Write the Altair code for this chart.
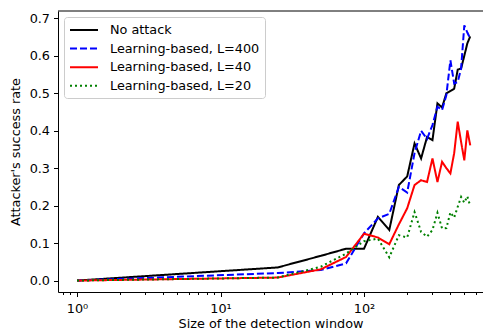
import altair as alt
import pandas as pd

# Detection window sizes
window = [1, 25, 50, 75, 100, 125, 150, 175, 200, 225, 250, 275, 300,
          325, 350, 375, 400, 425, 450, 475, 500, 525, 550]

no_attack = [0.0, 0.035, 0.066, 0.085, 0.085, 0.170, 0.135, 0.255, 0.278,
             0.366, 0.326, 0.383, 0.375, 0.473, 0.462, 0.500, 0.506, 0.512,
             0.563, 0.566, 0.600, 0.633, 0.652]
learn_400 = [0.0, 0.020, 0.028, 0.046, 0.126, 0.166, 0.178, 0.250, 0.235,
             0.340, 0.400, 0.378, 0.415, 0.464, 0.455, 0.495, 0.588, 0.526,
             0.530, 0.566, 0.681, 0.662, 0.646]
learn_40 = [0.0, 0.008, 0.030, 0.063, 0.125, 0.115, 0.097, 0.150, 0.193,
            0.255, 0.268, 0.263, 0.326, 0.263, 0.317, 0.300, 0.286, 0.340,
            0.424, 0.370, 0.321, 0.401, 0.361]
learn_20 = [0.0, 0.008, 0.037, 0.072, 0.105, 0.112, 0.062, 0.121, 0.115,
            0.183, 0.130, 0.117, 0.135, 0.181, 0.139, 0.140, 0.182, 0.168,
            0.197, 0.223, 0.208, 0.225, 0.199]

series_names = ["No attack", "Learning-based, L=400",
                "Learning-based, L=40", "Learning-based, L=20"]
series_values = [no_attack, learn_400, learn_40, learn_20]
series_colors = ["#000000", "#0000ff", "#ff0000", "#008000"]
series_dashes = [[1, 0], [7, 3], [1, 0], [2, 3]]

major_ticks = [1, 10, 100]
minor_ticks = [0.8, 0.9, 2, 3, 4, 5, 6, 7, 8, 9,
               20, 30, 40, 50, 60, 70, 80, 90, 200, 300, 400, 500, 600]
y_ticks = [0.0, 0.1, 0.2, 0.3, 0.4, 0.5, 0.6, 0.7]

rows = []
for name, vals in zip(series_names, series_values):
    for w, v in zip(window, vals):
        rows.append({"window": w, "rate": v, "series": name})
df = pd.DataFrame(rows)

FONT = "DejaVu Sans"
W, H = 425, 281

x_axis = alt.Axis(
    values=sorted(major_ticks + minor_ticks),
    labelExpr="datum.value == 1 ? '10⁰' : datum.value == 10 ? '10¹' : datum.value == 100 ? '10²' : ''",
    tickSize={"condition": {"test": "datum.value == 1 || datum.value == 10 || datum.value == 100",
                            "value": 4.5}, "value": 2.5},
    title="Size of the detection window",
    grid=False,
    domainColor="#000000",
    tickColor="#000000",
    labelPadding=6,
    titlePadding=2,
    labelFlush=False,
)

y_axis = alt.Axis(
    values=y_ticks,
    format=".1f",
    title="Attacker's success rate",
    grid=False,
    tickSize=4.5,
    domainColor="#000000",
    tickColor="#000000",
    labelPadding=4,
    titlePadding=7,
)

lines = alt.Chart(df).mark_line(strokeWidth=2, strokeCap="butt", clip=True).encode(
    x=alt.X("window:Q", scale=alt.Scale(type="log", domain=[0.737, 675], nice=False),
            axis=x_axis),
    y=alt.Y("rate:Q", scale=alt.Scale(domain=[-0.0305, 0.7195], nice=False, zero=False),
            axis=y_axis),
    color=alt.Color("series:N",
                    scale=alt.Scale(domain=series_names, range=series_colors),
                    legend=alt.Legend(title=None)),
    strokeDash=alt.StrokeDash("series:N",
                              scale=alt.Scale(domain=series_names, range=series_dashes),
                              legend=alt.Legend(title=None)),
)

# upper frame line of the plot box
top_frame = alt.Chart(pd.DataFrame({"k": [0]})).mark_rule(
    color="#000000", strokeWidth=1
).encode(x=alt.value(0), x2=alt.value(W), y=alt.value(0))

chart = alt.layer(lines, top_frame).properties(
    width=W,
    height=H,
    padding={"left": 58, "top": 11, "right": 0, "bottom": 39},
    autosize=alt.AutoSizeParams(type="none"),
).configure_view(
    stroke=None
).configure_axis(
    labelFont=FONT,
    titleFont=FONT,
    labelFontSize=12.8,
    titleFontSize=12.8,
    titleFontWeight="normal",
    labelColor="#000000",
    titleColor="#000000",
    domainWidth=1,
    tickWidth=1,
).configure_legend(
    orient="none",
    legendX=6,
    legendY=6,
    labelFont=FONT,
    labelFontSize=12.8,
    labelColor="#000000",
    symbolType="M-2,0H2",
    symbolSize=196,
    symbolOffset=7,
    symbolStrokeWidth=2,
    rowPadding=3.6,
    labelOffset=18,
    padding=5,
    strokeColor="#cccccc",
    fillColor="#ffffff",
    cornerRadius=3,
)

chart.save("out.html", embed_options={"renderer": "svg", "actions": False})
